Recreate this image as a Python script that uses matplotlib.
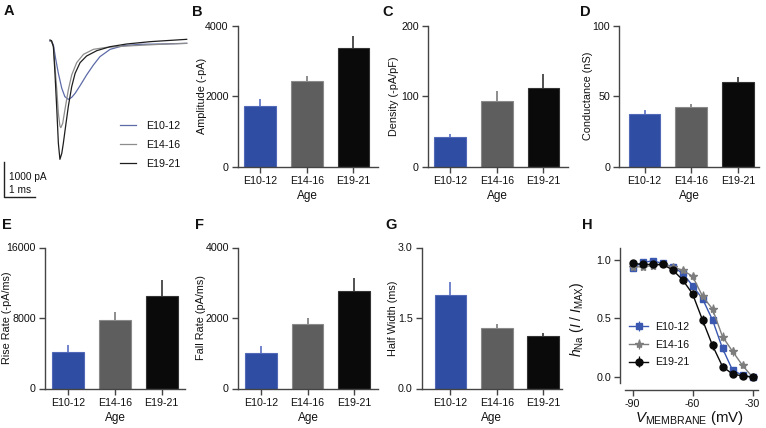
import matplotlib
matplotlib.use('Agg')
import matplotlib.pyplot as plt
import numpy as np

plt.rcParams['font.family'] = ['Liberation Sans', 'DejaVu Sans']
plt.rcParams['font.size'] = 7.7
plt.rcParams['axes.unicode_minus'] = False
plt.rcParams['mathtext.fontset'] = 'custom'
plt.rcParams['mathtext.rm'] = 'Liberation Sans'
plt.rcParams['mathtext.it'] = 'Liberation Sans:italic'
plt.rcParams['text.color'] = '#111111'
plt.rcParams['axes.labelcolor'] = '#111111'
plt.rcParams['xtick.color'] = '#333333'
plt.rcParams['ytick.color'] = '#333333'
plt.rcParams['xtick.labelcolor'] = '#111111'
plt.rcParams['ytick.labelcolor'] = '#111111'

ages = ['E10-12', 'E14-16', 'E19-21']
bar_colors = ['#2f4ea3', '#5e5e5e', '#0a0a0a']
edge_colors = ['#5269b8', '#8a8a8a', '#333333']
err_colors = ['#5a6fc2', '#7a7a7a', '#333333']
trace_colors = ['#5d6aa8', '#8c8c8c', '#1e1e1e']

# A: example currents, time (ms) and current (pA)
t_e10 = [0, 0.05, 0.11, 0.18, 0.27, 0.38, 0.48, 0.59, 0.70, 0.81, 0.97, 1.18, 1.40, 1.61, 1.94, 2.37, 2.90, 3.55, 4.41]
i_e10 = [0, -10, -114, -495, -924, -1352, -1590, -1667, -1610, -1495, -1276, -971, -686, -448, -238, -133, -95, -86, -67]
t_e14 = [0, 0.05, 0.11, 0.16, 0.22, 0.27, 0.32, 0.35, 0.41, 0.48, 0.59, 0.70, 0.86, 1.08, 1.40, 1.83, 2.69, 3.55, 4.41]
i_e14 = [0, -19, -162, -733, -1400, -2067, -2429, -2476, -2352, -1971, -1400, -971, -619, -381, -238, -181, -133, -95, -67]
t_e19 = [0, 0.05, 0.11, 0.16, 0.22, 0.27, 0.32, 0.38, 0.43, 0.48, 0.59, 0.70, 0.81, 0.97, 1.18, 1.51, 1.94, 2.47, 3.23, 4.41]
i_e19 = [29, 9, -162, -924, -1971, -2924, -3381, -3210, -2924, -2590, -1876, -1305, -924, -619, -429, -276, -162, -86, -19, 48]

# B-G: mean and SEM
amplitude = [1720, 2432, 3373]
amplitude_err = [200, 133, 342]
density = [42.8, 93.6, 111.6]
density_err = [3.8, 13.8, 19.4]
conductance = [37.5, 42.0, 60.1]
conductance_err = [2.9, 2.7, 3.6]
rise_rate = [4105, 7790, 10490]
rise_rate_err = [835, 837, 1785]
fall_rate = [1005, 1839, 2777]
fall_rate_err = [199, 171, 360]
half_width = [1.98, 1.29, 1.125]
half_width_err = [0.28, 0.08, 0.055]

# H: steady-state inactivation
v_membrane = [-90, -85, -80, -75, -70, -65, -60, -55, -50, -45, -40, -35, -30]
h_e10 = [0.93, 0.977, 0.99, 0.97, 0.94, 0.886, 0.78, 0.667, 0.487, 0.245, 0.06, 0.015, 0.0]
h_e14 = [0.94, 0.94, 0.95, 0.96, 0.94, 0.91, 0.86, 0.69, 0.58, 0.345, 0.22, 0.10, 0.0]
h_e19 = [0.97, 0.96, 0.96, 0.96, 0.915, 0.83, 0.71, 0.487, 0.27, 0.09, 0.026, 0.01, 0.0]
h_e10_err = [0.02, 0.01, 0.01, 0.01, 0.015, 0.02, 0.02, 0.03, 0.03, 0.035, 0.02, 0.01, 0.005]
h_e14_err = [0.02, 0.015, 0.015, 0.01, 0.02, 0.025, 0.03, 0.04, 0.04, 0.04, 0.04, 0.02, 0.005]
h_e19_err = [0.015, 0.01, 0.01, 0.01, 0.015, 0.02, 0.03, 0.04, 0.04, 0.03, 0.015, 0.01, 0.005]

W, H = 766, 428
fig = plt.figure(figsize=(W / 100, H / 100), dpi=100)


def px_axes(left, top, width, height):
    return fig.add_axes([left / W, 1 - (top + height) / H, width / W, height / H])


def style(ax):
    for s in ['top', 'right']:
        ax.spines[s].set_visible(False)
    for s in ['left', 'bottom']:
        ax.spines[s].set_linewidth(1.0)
        ax.spines[s].set_color('#444444')
    ax.tick_params(length=4, width=1.0, pad=2.5, color='#444444', labelsize=7.7)


def bar_panel(left, top, values, errors, ylabel, yticks, ytick_labels, xlim, label_dx):
    width = 140
    ax = px_axes(left, top, width, 141)
    x = np.arange(len(ages))
    ax.bar(x, values, width=0.68, color=bar_colors, edgecolor=edge_colors,
           linewidth=0.8, zorder=2)
    for xi, v, e, c in zip(x, values, errors, err_colors):
        ax.errorbar(xi, v, yerr=[[0], [e]], fmt='none', ecolor=c,
                    elinewidth=1.2, capsize=0, zorder=1)
    ax.set_xlim(*xlim)
    ax.set_ylim(yticks[0], yticks[-1])
    ax.set_xticks(x)
    ax.set_xticklabels(ages)
    ax.set_yticks(yticks)
    ax.set_yticklabels(ytick_labels)
    ax.set_xlabel('Age', fontsize=8.5, labelpad=3)
    ax.set_ylabel(ylabel, fontsize=7.8)
    ax.yaxis.set_label_coords(-label_dx / width, 0.5)
    style(ax)
    return ax


# panel A
axA = px_axes(0, 0, 200, 205)
axA.plot(t_e10, i_e10, color=trace_colors[0], lw=0.9, label=ages[0])
axA.plot(t_e14, i_e14, color=trace_colors[1], lw=0.9, label=ages[1])
axA.plot(t_e19, i_e19, color=trace_colors[2], lw=0.9, label=ages[2])
axA.set_xlim(-50 / 31, 150 / 31)
axA.set_ylim(-(205 - 41) / 35 * 1000, 41 / 35 * 1000)
axA.axis('off')
# scale bar: 1000 pA, 1 ms
sb_t, sb_i = -1.484, -4457
axA.plot([sb_t, sb_t, sb_t + 1], [sb_i + 1000, sb_i, sb_i], color='#222222', lw=1)
axA.text(sb_t + 0.16, sb_i + 560, '1000 pA', fontsize=7.3, va='center')
axA.text(sb_t + 0.16, sb_i + 210, '1 ms', fontsize=7.3, va='center')
axA.legend(loc='upper left', bbox_to_anchor=(0.6, 0.41), frameon=False,
           handlelength=1.5, handletextpad=0.9, labelspacing=0.85,
           fontsize=7.7, borderaxespad=0, borderpad=0)

bar_panel(237.7, 25.7, amplitude, amplitude_err, 'Amplitude (-pA)',
          [0, 2000, 4000], ['0', '2000', '4000'], (-0.48, 2.52), 31)
bar_panel(427.7, 25.7, density, density_err, 'Density (-pA/pF)',
          [0, 100, 200], ['0', '100', '200'], (-0.48, 2.52), 29)
bar_panel(619.3, 25.7, conductance, conductance_err, 'Conductance (nS)',
          [0, 50, 100], ['0', '50', '100'], (-0.54, 2.46), 26)
bar_panel(45, 247.5, rise_rate, rise_rate_err, 'Rise Rate (-pA/ms)',
          [0, 8000, 16000], ['0', '8000', '16000'], (-0.5, 2.5), 33)
bar_panel(238, 247.5, fall_rate, fall_rate_err, 'Fall Rate (pA/ms)',
          [0, 2000, 4000], ['0', '2000', '4000'], (-0.49, 2.51), 32)
bar_panel(421.7, 247.5, half_width, half_width_err, 'Half Width (ms)',
          [0.0, 1.5, 3.0], ['0.0', '1.5', '3.0'], (-0.62, 2.4), 24)

# panel H
axH = px_axes(620, 248, 138, 142)
series = [(h_e10, h_e10_err, 's', 5), (h_e14, h_e14_err, '*', 6),
          (h_e19, h_e19_err, 'o', 5)]
hcolors = ['#3a58b0', '#7d7d7d', '#0a0a0a']
for (h, e, m, ms), c, lab in zip(series, hcolors, ages):
    axH.errorbar(v_membrane, h, yerr=e, fmt='-' + m, color=c, ms=ms, lw=1,
                 elinewidth=0.9, capsize=0, label=lab)
axH.set_xlim(-96.25, -27.25)
axH.set_ylim(-0.11, 1.1)
axH.set_xticks([-90, -60, -30])
axH.set_yticks([0.0, 0.5, 1.0])
axH.set_yticklabels(['0.0', '0.5', '1.0'])
style(axH)
axH.spines['left'].set_bounds(-0.05, 1.1)
axH.spines['bottom'].set_bounds(-94, -27.25)
axH.set_xlabel(r'$V_{\mathrm{MEMBRANE}}$ (mV)', fontsize=10.8, labelpad=0)
axH.set_ylabel(r'$h_{\mathrm{Na}}$ $(I\ /\ I_{\mathrm{MAX}})$', fontsize=10)
axH.yaxis.set_label_coords(-34 / 138, 0.5)
axH.legend(loc='upper left', bbox_to_anchor=(0.066, 0.48), frameon=False,
           handlelength=1.8, handletextpad=0.6, labelspacing=0.73,
           fontsize=7.7, borderaxespad=0, borderpad=0)

# panel letters
letters = [('A', 4, 11), ('B', 192, 12), ('C', 382, 12), ('D', 580, 12),
           ('E', 2, 225), ('F', 195, 225), ('G', 385, 225), ('H', 582, 225)]
for s, x, y in letters:
    fig.text(x / W, 1 - y / H, s, fontsize=10.5, fontweight='bold', va='center', ha='left')

fig.savefig('out.png', dpi=100)
